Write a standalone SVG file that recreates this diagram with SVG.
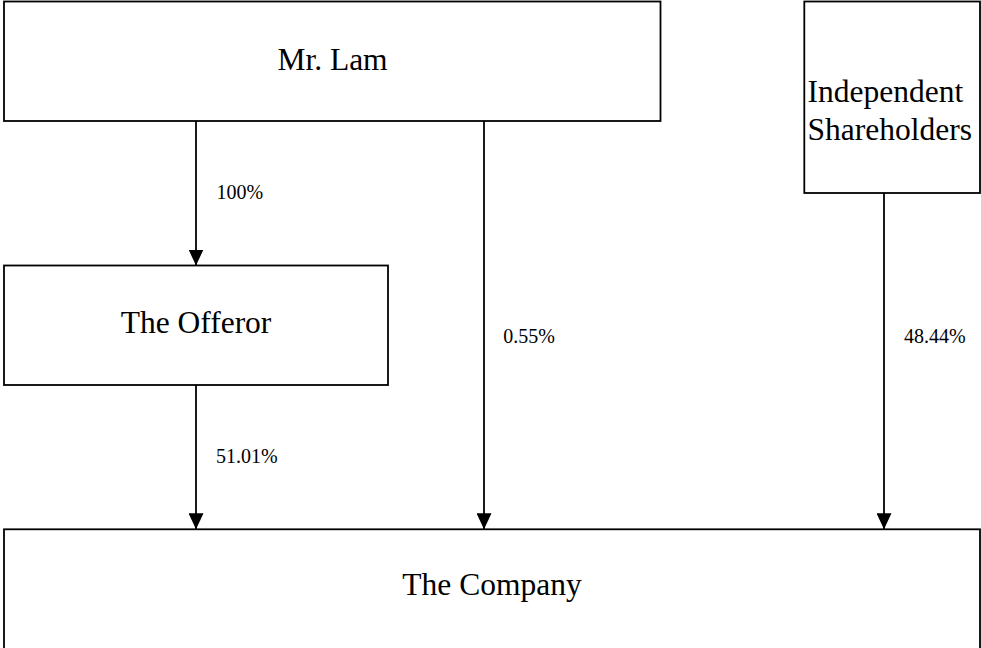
<svg xmlns="http://www.w3.org/2000/svg" width="981" height="648" viewBox="0 0 981 648">
<style>
.box{fill:#fff;stroke:#000;stroke-width:1.8}
.t{font-family:"Liberation Serif","Times New Roman",serif;font-size:31.5px;fill:#000}
.p{font-family:"Liberation Serif","Times New Roman",serif;font-size:20px;fill:#000}
.c{stroke:#000;stroke-width:1.8;fill:none}
</style>
<defs>
<marker id="ah" markerUnits="userSpaceOnUse" markerWidth="16" markerHeight="15" refX="16" refY="7.5" orient="auto">
<path d="M0,0 L16,7.5 L0,15 Z" fill="#000"/>
</marker>
</defs>
<rect width="981" height="648" fill="#fff"/>
<g id="mr-lam">
<rect class="box" x="4" y="1.5" width="656.5" height="119.5"/>
<text class="t" x="332.5" y="70" text-anchor="middle">Mr. Lam</text>
</g>
<g id="independent-shareholders">
<rect class="box" x="804.3" y="1.5" width="175.7" height="191.5"/>
<text class="t" x="807.5" y="101.7">Independent</text>
<text class="t" x="807.5" y="140">Shareholders</text>
</g>
<g id="the-offeror">
<rect class="box" x="4" y="265.5" width="384" height="119.5"/>
<text class="t" x="196" y="333.3" text-anchor="middle">The Offeror</text>
</g>
<g id="the-company">
<rect class="box" x="4" y="529.3" width="976" height="125"/>
<text class="t" x="492" y="595" text-anchor="middle">The Company</text>
</g>
<g id="connectors">
<line class="c" x1="196" y1="121" x2="196" y2="265.5" marker-end="url(#ah)"/>
<line class="c" x1="196" y1="385" x2="196" y2="529.3" marker-end="url(#ah)"/>
<line class="c" x1="484" y1="121" x2="484" y2="529.3" marker-end="url(#ah)"/>
<line class="c" x1="884" y1="193" x2="884" y2="529.3" marker-end="url(#ah)"/>
<text class="p" x="216.5" y="199">100%</text>
<text class="p" x="216" y="463.3">51.01%</text>
<text class="p" x="503.3" y="343.3">0.55%</text>
<text class="p" x="904" y="342.7">48.44%</text>
</g>
</svg>
